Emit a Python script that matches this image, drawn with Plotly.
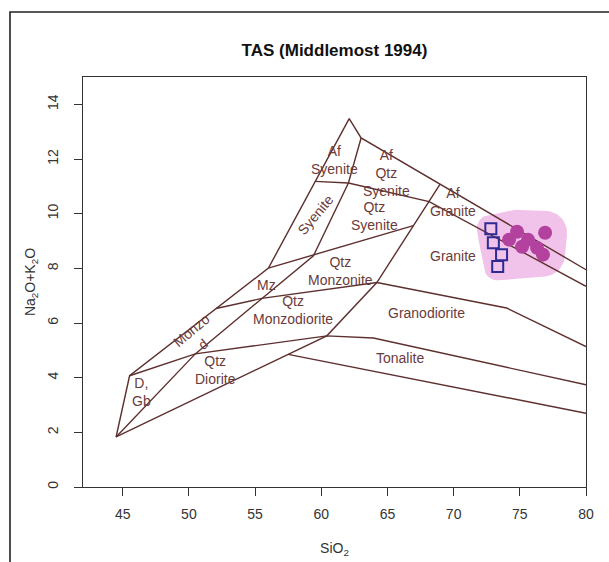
import math
import plotly.graph_objects as go

# ---- field boundaries of the plutonic TAS template (SiO2 vs Na2O+K2O, wt.%) ----
outer_si = [44.5, 45.52, 56.01, 62.11, 63.01, 80.0]
outer_alk = [1.83, 4.07, 8.01, 13.48, 12.77, 7.95]

af_granite_base_si = [59.54, 62.05, 68.15, 80.0]
af_granite_base_alk = [11.18, 11.12, 10.44, 7.34]

qtz_limit_si = [44.5, 60.42, 64.2, 68.98]
qtz_limit_alk = [1.83, 5.53, 7.48, 11.08]

inner_si = [44.5, 50.48, 59.41, 62.05, 63.01]
inner_alk = [1.83, 4.87, 8.46, 11.12, 12.77]

qtz_monzonite_top_si = [56.01, 66.96]
qtz_monzonite_top_alk = [8.01, 9.56]

granite_base_si = [52.06, 55.51, 64.2, 74.0, 80.0]
granite_base_alk = [6.53, 6.9, 7.48, 6.55, 5.14]

tonalite_top_si = [45.52, 50.48, 60.42, 63.94, 80.0]
tonalite_top_alk = [4.07, 4.87, 5.53, 5.45, 3.74]

tonalite_base_si = [57.5, 80.0]
tonalite_base_alk = [4.85, 2.70]

boundaries = [
    (outer_si, outer_alk),
    (af_granite_base_si, af_granite_base_alk),
    (qtz_limit_si, qtz_limit_alk),
    (inner_si, inner_alk),
    (qtz_monzonite_top_si, qtz_monzonite_top_alk),
    (granite_base_si, granite_base_alk),
    (tonalite_top_si, tonalite_top_alk),
    (tonalite_base_si, tonalite_base_alk),
]

# ---- field names ----
field_names = ["Af<br>Syenite", "Af<br>Qtz<br>Syenite", "Qtz<br>Syenite", "Syenite",
               "Af<br>Granite", "Granite", "Qtz<br>Monzonite", "Mz",
               "Qtz<br>Monzodiorite", "Monzo<br>d", "Qtz<br>Diorite", "D,<br>Gb",
               "Granodiorite", "Tonalite"]
field_si = [60.97, 64.9, 64.03, 59.54, 69.96, 69.93, 61.43, 55.89,
            57.88, 50.64, 52.0, 46.4, 67.97, 65.96]
field_alk = [11.98, 11.47, 9.90, 9.96, 10.44, 8.44, 7.91, 7.40,
             6.48, 5.49, 4.29, 3.48, 6.36, 4.71]
field_angle = [0, 0, 0, -50, 0, 0, 0, 0, 0, -40, 0, 0, 0, 0]

# ---- samples ----
granite_si = [74.79, 76.91, 74.19, 75.62, 75.17, 76.30, 76.75]
granite_alk = [9.34, 9.30, 9.05, 9.05, 8.79, 8.75, 8.50]

enclave_si = [72.81, 73.00, 73.62, 73.33]
enclave_alk = [9.45, 8.94, 8.50, 8.07]

LINE = "#5e2f2f"
TEXT = "#6b3b3b"
HALO = "#f2c3ea"
FONT = "Liberation Sans, Arial, Helvetica, sans-serif"

W, H = 609, 562
ML, MR, MT, MB = 83, 23, 77, 75
pw, ph = W - ML - MR, H - MT - MB
X_RANGE = [42, 80]
Y_RANGE = [0, 15]
sx = pw / (X_RANGE[1] - X_RANGE[0])   # px per SiO2 unit
sy = ph / (Y_RANGE[1] - Y_RANGE[0])   # px per alkali unit


def px_to_paper_x(px):
    return (px - ML) / pw


def px_to_paper_y(py):
    return (H - MB - py) / ph


def halo_outline(groups):
    """Convex hull (in screen space) of discs drawn around every sample."""
    pts = []
    for xs, ys, r in groups:
        for x, y in zip(xs, ys):
            for k in range(64):
                a = 2 * math.pi * k / 64
                pts.append((x * sx + r * math.cos(a), y * sy + r * math.sin(a)))
    pts = sorted(set(pts))

    def cross(o, a, b):
        return (a[0] - o[0]) * (b[1] - o[1]) - (a[1] - o[1]) * (b[0] - o[0])

    lower, upper = [], []
    for p in pts:
        while len(lower) >= 2 and cross(lower[-2], lower[-1], p) <= 0:
            lower.pop()
        lower.append(p)
    for p in reversed(pts):
        while len(upper) >= 2 and cross(upper[-2], upper[-1], p) <= 0:
            upper.pop()
        upper.append(p)
    hull = lower[:-1] + upper[:-1]
    hull.append(hull[0])
    return [p[0] / sx for p in hull], [p[1] / sy for p in hull]


fig = go.Figure()

# soft highlight around the sample group
hx, hy = halo_outline([(granite_si, granite_alk, 22), (enclave_si, enclave_alk, 14)])
fig.add_trace(go.Scatter(x=hx, y=hy, mode="lines", fill="toself", fillcolor=HALO,
                         line=dict(width=0, color=HALO), hoverinfo="skip",
                         showlegend=False))

for bx, by in boundaries:
    fig.add_trace(go.Scatter(x=bx, y=by, mode="lines",
                             line=dict(color=LINE, width=1.4),
                             hoverinfo="skip", showlegend=False))

fig.add_trace(go.Scatter(x=granite_si, y=granite_alk, mode="markers",
                         marker=dict(size=14, color="#b3429e", line=dict(width=0)),
                         showlegend=False))
fig.add_trace(go.Scatter(x=enclave_si, y=enclave_alk, mode="markers",
                         marker=dict(symbol="square-open", size=11,
                                     color="#2f2b92", line=dict(width=2, color="#2f2b92")),
                         showlegend=False))

for name, fx, fy, ang in zip(field_names, field_si, field_alk, field_angle):
    fig.add_annotation(x=fx, y=fy, text=name, showarrow=False, textangle=ang,
                       font=dict(family=FONT, size=14, color=TEXT))

# outer frame (left and top edges)
fig.add_shape(type="path", xref="paper", yref="paper",
              path=(f"M {px_to_paper_x(10)} {px_to_paper_y(H + 5)} "
                    f"L {px_to_paper_x(10)} {px_to_paper_y(12)} "
                    f"L {px_to_paper_x(W + 5)} {px_to_paper_y(12)}"),
              line=dict(color="#222222", width=1.6))

fig.update_layout(
    width=W, height=H,
    margin=dict(l=ML, r=MR, t=MT, b=MB),
    paper_bgcolor="white", plot_bgcolor="white",
    font=dict(family=FONT, size=14, color="#333333"),
    title=dict(text="<b>TAS (Middlemost 1994)</b>", x=px_to_paper_x((ML + W - MR) / 2),
               xref="paper", xanchor="center", y=1 - 50 / H, yanchor="middle",
               font=dict(family=FONT, size=17, color="#111111")),
    xaxis=dict(range=X_RANGE, tickvals=[45, 50, 55, 60, 65, 70, 75, 80],
               ticks="outside", ticklen=8, tickwidth=1.3, tickcolor="#333333",
               ticklabelstandoff=6, automargin=False,
               showgrid=False, zeroline=False, showline=True, mirror=True,
               linecolor="#333333", linewidth=1.4,
               tickfont=dict(size=14, color="#333333"),
               title=dict(text="SiO<sub>2</sub>", standoff=22,
                          font=dict(size=14, color="#333333"))),
    yaxis=dict(range=Y_RANGE, tickvals=[0, 2, 4, 6, 8, 10, 12, 14],
               ticks="outside", ticklen=8, tickwidth=1.3, tickcolor="#333333",
               tickangle=-90, ticklabelstandoff=10, automargin=False,
               showgrid=False, zeroline=False, showline=True, mirror=True,
               linecolor="#333333", linewidth=1.4,
               tickfont=dict(size=14, color="#333333"),
               title=dict(text="Na<sub>2</sub>O+K<sub>2</sub>O", standoff=6,
                          font=dict(size=14, color="#333333"))),
)

fig.write_html("out.html")
